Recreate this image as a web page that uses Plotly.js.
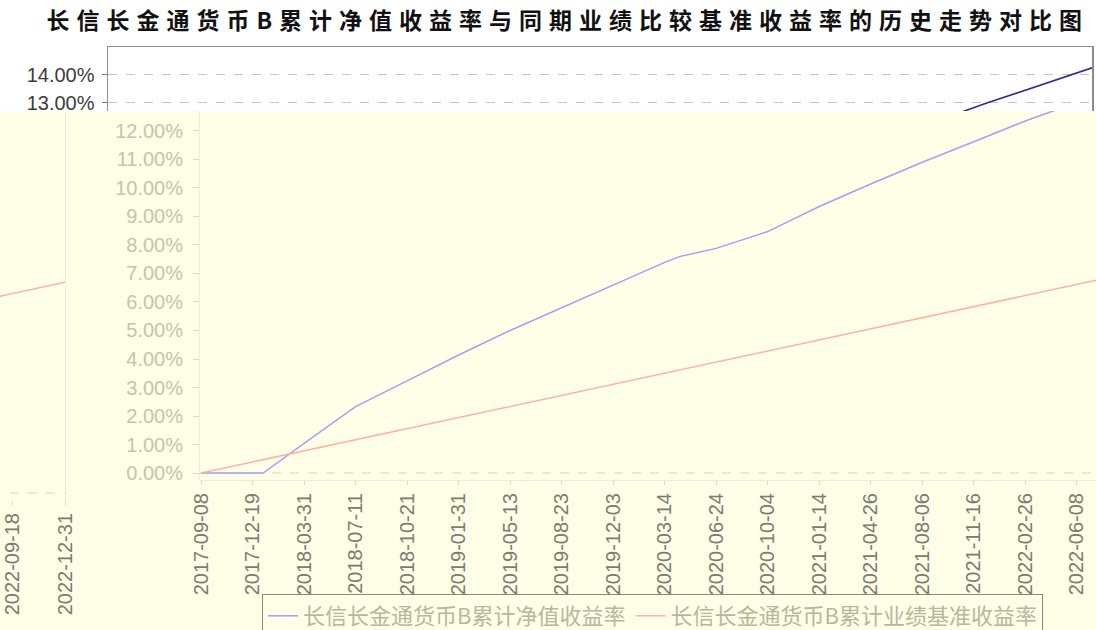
<!DOCTYPE html>
<html>
<head>
<meta charset="utf-8">
<script src="https://cdn.plot.ly/plotly-3.0.1.min.js"></script>
<style>
  html, body { margin: 0; padding: 0; background: #ffffff; }
  #chart { width: 1096px; height: 630px; }
  .gtitle { letter-spacing: 7px; }
</style>
</head>
<body>
<div id="chart"></div>
<script>
// ---- data ----
const titleText = '长信长金通货币B累计净值收益率与同期业绩比较基准收益率的历史走势对比图';
const navName = '长信长金通货币B累计净值收益率';
const benchName = '长信长金通货币B累计业绩基准收益率';

const tickDates = ['2017-09-08','2017-12-19','2018-03-31','2018-07-11','2018-10-21','2019-01-31',
  '2019-05-13','2019-08-23','2019-12-03','2020-03-14','2020-06-24','2020-10-04','2021-01-14',
  '2021-04-26','2021-08-06','2021-11-16','2022-02-26','2022-06-08','2022-09-18','2022-12-31'];

const navDates = ['2017-09-08','2017-12-19','2018-01-09','2018-03-31','2018-07-11','2018-10-21',
  '2019-01-31','2019-05-13','2019-08-23','2019-12-03','2020-03-14','2020-04-14','2020-06-24',
  '2020-10-04','2021-01-14','2021-04-26','2021-08-06','2021-11-16','2022-02-26','2022-06-08',
  '2022-09-18','2022-12-31'];
const navReturn = [0, 0, 0, 1.04, 2.33, 3.23, 4.14, 5.00, 5.80, 6.61, 7.39, 7.60, 7.88,
  8.47, 9.35, 10.14, 10.90, 11.62, 12.35, 13.00, 13.62, 14.24];

const benchDates = tickDates;
const benchReturn = [0, 0.39, 0.78, 1.17, 1.55, 1.94, 2.33, 2.72, 3.11, 3.50, 3.89, 4.27,
  4.66, 5.05, 5.44, 5.83, 6.22, 6.61, 7.00, 7.40];

// ---- styling ----
const W = 1096, H = 630;
const px = v => v / W;
const py = v => 1 - v / H;
const yellow = '#FFFEE6';
const navFaded = '#A0A0F6';
const benchFaded = '#FFB3A3';
const navDark = '#2E2E8C';

const traces = [
  {x: navDates, y: navReturn, type: 'scatter', mode: 'lines', name: navName,
   xaxis: 'x', yaxis: 'y', line: {color: navFaded, width: 1.5}},
  {x: benchDates, y: benchReturn, type: 'scatter', mode: 'lines', name: benchName,
   xaxis: 'x', yaxis: 'y', line: {color: benchFaded, width: 1.5}},
  {x: navDates, y: navReturn, type: 'scatter', mode: 'lines', showlegend: false,
   xaxis: 'x2', yaxis: 'y2', line: {color: navDark, width: 1.6}},
  {x: benchDates, y: benchReturn, type: 'scatter', mode: 'lines', showlegend: false,
   xaxis: 'x2', yaxis: 'y2', line: {color: '#D04040', width: 1.6}},
  {x: navDates, y: navReturn, type: 'scatter', mode: 'lines', showlegend: false,
   xaxis: 'x3', yaxis: 'y3', line: {color: navFaded, width: 1.5}},
  {x: benchDates, y: benchReturn, type: 'scatter', mode: 'lines', showlegend: false,
   xaxis: 'x3', yaxis: 'y3', line: {color: benchFaded, width: 1.5}}
];

const xTickFont = {family: 'Liberation Sans, Arial, sans-serif', size: 20, color: '#7C7B70'};

const layout = {
  width: W, height: H,
  margin: {l: 0, r: 0, t: 0, b: 0, pad: 0, autoexpand: false},
  paper_bgcolor: '#ffffff',
  plot_bgcolor: 'rgba(0,0,0,0)',
  title: {text: titleText, x: 0.518, xanchor: 'center', xref: 'paper',
          y: py(21), yanchor: 'middle', yref: 'paper',
          font: {family: 'Noto Sans CJK SC, sans-serif', size: 23, color: '#111111', weight: 'bold'}},
  showlegend: true,
  legend: {orientation: 'h', x: px(262), xanchor: 'left', y: py(594), yanchor: 'top',
           bgcolor: yellow, bordercolor: '#8C8B72', borderwidth: 1,
           font: {family: 'Noto Sans CJK SC, sans-serif', size: 22, color: '#B8B6A0'}},
  // main (faded, yellow) plot
  xaxis: {type: 'date', domain: [px(200), 1], range: ['2017-09-06', '2022-07-16'], anchor: 'y',
          tickvals: tickDates, ticktext: tickDates, tickangle: -90,
          ticks: 'outside', ticklen: 4, tickcolor: '#DEDAC2', tickfont: xTickFont,
          showgrid: false, zeroline: false, showline: true, linecolor: '#EFEBD3'},
  yaxis: {domain: [py(480), py(111)], range: [-0.245, 12.70], anchor: 'x',
          dtick: 1, tick0: 0, tickformat: '.2f', ticksuffix: '%',
          ticks: 'outside', ticklen: 6, tickcolor: '#DEDAC2', ticklabelstandoff: 6,
          tickfont: {family: 'Liberation Sans, Arial, sans-serif', size: 20, color: '#C6C3AD'},
          showgrid: false, zeroline: false, showline: true, linecolor: '#EFEBD3'},
  // top white strip
  xaxis2: {type: 'date', domain: [px(108), px(1092)], range: ['2017-09-08', '2022-12-31'], anchor: 'y2',
           side: 'top', showticklabels: false, ticks: '', showgrid: false, zeroline: false,
           showline: true, linecolor: '#8C8C8C', linewidth: 1.5},
  yaxis2: {domain: [py(111), py(47)], range: [12.71, 14.98], anchor: 'x2',
           dtick: 1, tick0: 0, tickformat: '.2f', ticksuffix: '%',
           ticks: 'outside', ticklen: 5, tickcolor: '#777777', ticklabelstandoff: 3,
           tickfont: {family: 'Liberation Sans, Arial, sans-serif', size: 20, color: '#3C3C3C'},
           showgrid: true, gridcolor: '#C4C4C4', griddash: 'dash', zeroline: false,
           showline: true, linecolor: '#8C8C8C', linewidth: 1.5, mirror: true},
  // left fragment
  xaxis3: {type: 'date', domain: [0, px(65)], range: ['2022-08-24', '2022-12-31'], anchor: 'y3',
           tickvals: tickDates, ticktext: tickDates, tickangle: -90,
           ticks: 'outside', ticklen: 4, tickcolor: '#DEDAC2', tickfont: xTickFont,
           showgrid: false, zeroline: false, showline: false},
  yaxis3: {domain: [py(500), py(112)], range: [-0.245, 13.37], anchor: 'x3', side: 'right',
           showticklabels: false, ticks: '', showgrid: false, zeroline: false,
           showline: true, linecolor: '#EFEBD3'},
  shapes: [
    {type: 'rect', xref: 'paper', yref: 'paper', x0: 0, x1: 1, y0: 0, y1: py(111),
     fillcolor: yellow, line: {width: 0}, layer: 'below'},
    {type: 'line', xref: 'x domain', yref: 'y', x0: 0, x1: 1, y0: 0, y1: 0,
     line: {color: '#D8D4BD', width: 1, dash: 'dash'}, layer: 'below'},
    {type: 'line', xref: 'x3 domain', yref: 'y3', x0: 0.15, x1: 1, y0: 0, y1: 0,
     line: {color: '#D8D4BD', width: 1, dash: 'dash'}, layer: 'below'}
  ]
};

Plotly.newPlot('chart', traces, layout, {displayModeBar: false, staticPlot: true});
</script>
</body>
</html>
